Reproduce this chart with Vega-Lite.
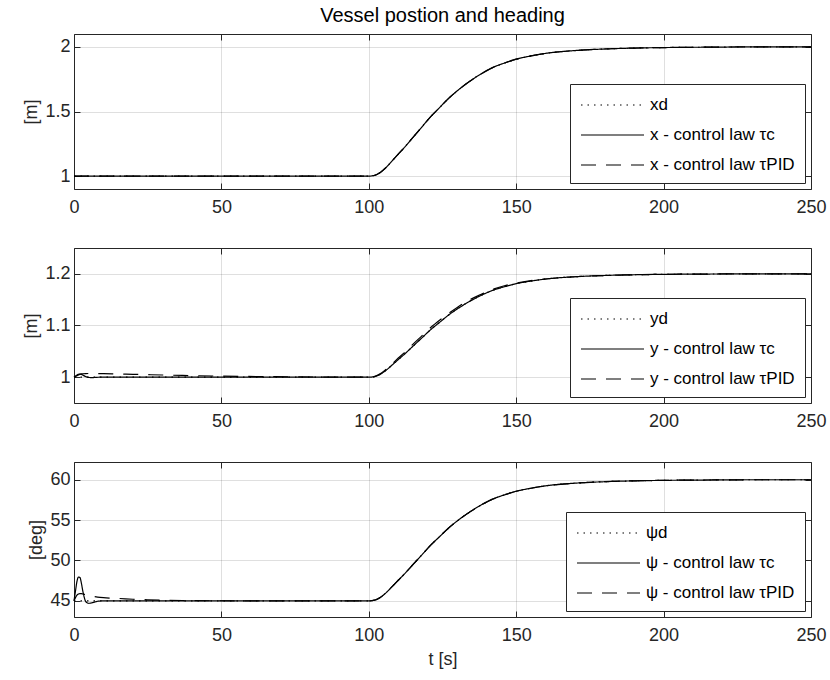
{
  "$schema": "https://vega.github.io/schema/vega-lite/v6.json",
  "padding": {"left": 22, "top": 5, "right": 5, "bottom": 5},
  "datasets": {
    "x": [
      {"t": 0, "d": 1, "c": 1, "p": 1},
      {"t": 50, "d": 1, "c": 1, "p": 1},
      {"t": 100, "d": 1, "c": 1, "p": 1},
      {"t": 102, "d": 1.006, "c": 1.006, "p": 1.006},
      {"t": 104, "d": 1.03, "c": 1.03, "p": 1.03},
      {"t": 106, "d": 1.07, "c": 1.07, "p": 1.07},
      {"t": 108, "d": 1.12, "c": 1.12, "p": 1.12},
      {"t": 110, "d": 1.17, "c": 1.17, "p": 1.17},
      {"t": 112, "d": 1.22, "c": 1.22, "p": 1.22},
      {"t": 115, "d": 1.3, "c": 1.3, "p": 1.3},
      {"t": 118, "d": 1.38, "c": 1.38, "p": 1.38},
      {"t": 121, "d": 1.46, "c": 1.46, "p": 1.46},
      {"t": 124, "d": 1.53, "c": 1.53, "p": 1.53},
      {"t": 127, "d": 1.6, "c": 1.6, "p": 1.6},
      {"t": 130, "d": 1.66, "c": 1.66, "p": 1.66},
      {"t": 134, "d": 1.73, "c": 1.73, "p": 1.73},
      {"t": 138, "d": 1.79, "c": 1.79, "p": 1.79},
      {"t": 142, "d": 1.84, "c": 1.84, "p": 1.84},
      {"t": 146, "d": 1.875, "c": 1.875, "p": 1.875},
      {"t": 150, "d": 1.905, "c": 1.905, "p": 1.905},
      {"t": 155, "d": 1.93, "c": 1.93, "p": 1.93},
      {"t": 160, "d": 1.95, "c": 1.95, "p": 1.95},
      {"t": 170, "d": 1.972, "c": 1.972, "p": 1.972},
      {"t": 180, "d": 1.984, "c": 1.984, "p": 1.984},
      {"t": 190, "d": 1.991, "c": 1.991, "p": 1.991},
      {"t": 200, "d": 1.995, "c": 1.995, "p": 1.995},
      {"t": 215, "d": 1.998, "c": 1.998, "p": 1.998},
      {"t": 230, "d": 2, "c": 2, "p": 2},
      {"t": 250, "d": 2, "c": 2, "p": 2}
    ],
    "y": [
      {"t": 0, "d": 1, "c": 1, "p": 1},
      {"t": 0.5, "d": 1, "c": 1.002, "p": 1.0015},
      {"t": 1, "d": 1, "c": 1.004, "p": 1.003},
      {"t": 1.5, "d": 1, "c": 1.0055, "p": 1.0045},
      {"t": 2, "d": 1, "c": 1.006, "p": 1.0055},
      {"t": 2.5, "d": 1, "c": 1.0055, "p": 1.0062},
      {"t": 3, "d": 1, "c": 1.004, "p": 1.0066},
      {"t": 4, "d": 1, "c": 1.001, "p": 1.007},
      {"t": 5, "d": 1, "c": 0.9995, "p": 1.0071},
      {"t": 6, "d": 1, "c": 0.9992, "p": 1.0071},
      {"t": 8, "d": 1, "c": 0.9998, "p": 1.007},
      {"t": 10, "d": 1, "c": 1, "p": 1.0068},
      {"t": 15, "d": 1, "c": 1, "p": 1.0062},
      {"t": 20, "d": 1, "c": 1, "p": 1.0055},
      {"t": 30, "d": 1, "c": 1, "p": 1.0042},
      {"t": 40, "d": 1, "c": 1, "p": 1.003},
      {"t": 50, "d": 1, "c": 1, "p": 1.002},
      {"t": 75, "d": 1, "c": 1, "p": 1.0006},
      {"t": 100, "d": 1, "c": 1, "p": 1},
      {"t": 102, "d": 1.0012, "c": 1.0012, "p": 1.0014},
      {"t": 104, "d": 1.006, "c": 1.006, "p": 1.007},
      {"t": 106, "d": 1.014, "c": 1.014, "p": 1.016},
      {"t": 108, "d": 1.024, "c": 1.024, "p": 1.026},
      {"t": 110, "d": 1.034, "c": 1.034, "p": 1.037},
      {"t": 112, "d": 1.044, "c": 1.044, "p": 1.047},
      {"t": 115, "d": 1.06, "c": 1.06, "p": 1.064},
      {"t": 118, "d": 1.076, "c": 1.076, "p": 1.08},
      {"t": 121, "d": 1.092, "c": 1.092, "p": 1.096},
      {"t": 124, "d": 1.106, "c": 1.106, "p": 1.11},
      {"t": 127, "d": 1.12, "c": 1.12, "p": 1.123},
      {"t": 130, "d": 1.132, "c": 1.132, "p": 1.135},
      {"t": 134, "d": 1.146, "c": 1.146, "p": 1.149},
      {"t": 138, "d": 1.158, "c": 1.158, "p": 1.16},
      {"t": 142, "d": 1.168, "c": 1.168, "p": 1.17},
      {"t": 146, "d": 1.175, "c": 1.175, "p": 1.177},
      {"t": 150, "d": 1.181, "c": 1.181, "p": 1.182},
      {"t": 155, "d": 1.186, "c": 1.186, "p": 1.187},
      {"t": 160, "d": 1.19, "c": 1.19, "p": 1.19},
      {"t": 170, "d": 1.1944, "c": 1.1944, "p": 1.1944},
      {"t": 180, "d": 1.1968, "c": 1.1968, "p": 1.1968},
      {"t": 190, "d": 1.1982, "c": 1.1982, "p": 1.1982},
      {"t": 200, "d": 1.199, "c": 1.199, "p": 1.199},
      {"t": 215, "d": 1.1996, "c": 1.1996, "p": 1.1996},
      {"t": 230, "d": 1.2, "c": 1.2, "p": 1.2},
      {"t": 250, "d": 1.2, "c": 1.2, "p": 1.2}
    ],
    "psi": [
      {"t": 0, "d": 45, "c": 45, "p": 45},
      {"t": 0.5, "d": 45, "c": 46.2, "p": 45.4},
      {"t": 1, "d": 45, "c": 47.4, "p": 45.7},
      {"t": 1.5, "d": 45, "c": 47.95, "p": 45.85},
      {"t": 2, "d": 45, "c": 47.9, "p": 45.9},
      {"t": 2.5, "d": 45, "c": 47.2, "p": 45.9},
      {"t": 3, "d": 45, "c": 46.2, "p": 45.85},
      {"t": 3.5, "d": 45, "c": 45.4, "p": 45.8},
      {"t": 4, "d": 45, "c": 44.9, "p": 45.75},
      {"t": 5, "d": 45, "c": 44.7, "p": 45.65},
      {"t": 6, "d": 45, "c": 44.75, "p": 45.58},
      {"t": 7, "d": 45, "c": 44.85, "p": 45.52},
      {"t": 8, "d": 45, "c": 44.95, "p": 45.47},
      {"t": 10, "d": 45, "c": 45, "p": 45.4},
      {"t": 12, "d": 45, "c": 45, "p": 45.35},
      {"t": 15, "d": 45, "c": 45, "p": 45.3},
      {"t": 20, "d": 45, "c": 45, "p": 45.2},
      {"t": 25, "d": 45, "c": 45, "p": 45.13},
      {"t": 30, "d": 45, "c": 45, "p": 45.08},
      {"t": 40, "d": 45, "c": 45, "p": 45.03},
      {"t": 50, "d": 45, "c": 45, "p": 45.01},
      {"t": 75, "d": 45, "c": 45, "p": 45},
      {"t": 100, "d": 45, "c": 45, "p": 45},
      {"t": 102, "d": 45.09, "c": 45.09, "p": 45.09},
      {"t": 104, "d": 45.45, "c": 45.45, "p": 45.45},
      {"t": 106, "d": 46.05, "c": 46.05, "p": 46.05},
      {"t": 108, "d": 46.8, "c": 46.8, "p": 46.8},
      {"t": 110, "d": 47.55, "c": 47.55, "p": 47.55},
      {"t": 112, "d": 48.3, "c": 48.3, "p": 48.3},
      {"t": 115, "d": 49.5, "c": 49.5, "p": 49.5},
      {"t": 118, "d": 50.7, "c": 50.7, "p": 50.7},
      {"t": 121, "d": 51.9, "c": 51.9, "p": 51.9},
      {"t": 124, "d": 52.95, "c": 52.95, "p": 52.95},
      {"t": 127, "d": 54.0, "c": 54.0, "p": 54.0},
      {"t": 130, "d": 54.9, "c": 54.9, "p": 54.9},
      {"t": 134, "d": 55.95, "c": 55.95, "p": 55.95},
      {"t": 138, "d": 56.85, "c": 56.85, "p": 56.85},
      {"t": 142, "d": 57.6, "c": 57.6, "p": 57.6},
      {"t": 146, "d": 58.125, "c": 58.125, "p": 58.125},
      {"t": 150, "d": 58.575, "c": 58.575, "p": 58.575},
      {"t": 155, "d": 58.95, "c": 58.95, "p": 58.95},
      {"t": 160, "d": 59.25, "c": 59.25, "p": 59.25},
      {"t": 170, "d": 59.58, "c": 59.58, "p": 59.58},
      {"t": 180, "d": 59.76, "c": 59.76, "p": 59.76},
      {"t": 190, "d": 59.865, "c": 59.865, "p": 59.865},
      {"t": 200, "d": 59.925, "c": 59.925, "p": 59.925},
      {"t": 215, "d": 59.97, "c": 59.97, "p": 59.97},
      {"t": 230, "d": 60, "c": 60, "p": 60},
      {"t": 250, "d": 60, "c": 60, "p": 60}
    ]
  },
  "vconcat": [
    {
      "width": 737, "height": 155,
      "title": {"text": "Vessel postion and heading", "frame": "group", "anchor": "middle", "offset": 8},
      "data": {"name": "x"},
      "transform": [{"fold": ["d", "c", "p"], "as": ["s", "v"]}],
      "layer": [
        {
          "mark": {"type": "line"},
          "encoding": {
            "x": {"field": "t", "type": "quantitative", "scale": {"domain": [0, 250], "nice": false}, "axis": {"values": [0, 50, 100, 150, 200, 250], "title": null}},
            "y": {"field": "v", "type": "quantitative", "scale": {"domain": [0.9, 2.1], "nice": false, "zero": false}, "axis": {"values": [1, 1.5, 2], "format": "~g", "title": "[m]"}},
            "strokeDash": {"field": "s", "type": "nominal", "scale": {"domain": ["d", "c", "p"], "range": [[1.5, 5], [1, 0], [15, 10]]},
              "legend": {"title": null, "symbolType": "M-1,0H5.3", "labelExpr": "datum.label == 'd' ? 'xd' : datum.label == 'c' ? 'x - control law τc' : 'x - control law τPID'"}}
          }
        },
        {
          "mark": {"type": "line", "opacity": 0},
          "encoding": {
            "x": {"field": "t", "type": "quantitative", "axis": {"orient": "top", "values": [0, 50, 100, 150, 200, 250], "labels": false, "grid": false, "title": null}},
            "y": {"field": "v", "type": "quantitative", "axis": {"orient": "right", "values": [1, 1.5, 2], "labels": false, "grid": false, "title": null}}
          }
        }
      ],
      "resolve": {"axis": {"x": "independent", "y": "independent"}}
    },
    {
      "width": 737, "height": 155,
      "data": {"name": "y"},
      "transform": [{"fold": ["d", "c", "p"], "as": ["s", "v"]}],
      "layer": [
        {
          "mark": {"type": "line"},
          "encoding": {
            "x": {"field": "t", "type": "quantitative", "scale": {"domain": [0, 250], "nice": false}, "axis": {"values": [0, 50, 100, 150, 200, 250], "title": null}},
            "y": {"field": "v", "type": "quantitative", "scale": {"domain": [0.95, 1.25], "nice": false, "zero": false}, "axis": {"values": [1, 1.1, 1.2], "format": "~g", "title": "[m]"}},
            "strokeDash": {"field": "s", "type": "nominal", "scale": {"domain": ["d", "c", "p"], "range": [[1.5, 5], [1, 0], [15, 10]]},
              "legend": {"title": null, "symbolType": "M-1,0H5.3", "labelExpr": "datum.label == 'd' ? 'yd' : datum.label == 'c' ? 'y - control law τc' : 'y - control law τPID'"}}
          }
        },
        {
          "mark": {"type": "line", "opacity": 0},
          "encoding": {
            "x": {"field": "t", "type": "quantitative", "axis": {"orient": "top", "values": [0, 50, 100, 150, 200, 250], "labels": false, "grid": false, "title": null}},
            "y": {"field": "v", "type": "quantitative", "axis": {"orient": "right", "values": [1, 1.1, 1.2], "labels": false, "grid": false, "title": null}}
          }
        }
      ],
      "resolve": {"axis": {"x": "independent", "y": "independent"}}
    },
    {
      "width": 737, "height": 155,
      "data": {"name": "psi"},
      "transform": [{"fold": ["d", "c", "p"], "as": ["s", "v"]}],
      "layer": [
        {
          "mark": {"type": "line"},
          "encoding": {
            "x": {"field": "t", "type": "quantitative", "scale": {"domain": [0, 250], "nice": false}, "axis": {"values": [0, 50, 100, 150, 200, 250], "title": "t [s]"}},
            "y": {"field": "v", "type": "quantitative", "scale": {"domain": [43, 62.2], "nice": false, "zero": false}, "axis": {"values": [45, 50, 55, 60], "format": "~g", "title": "[deg]"}},
            "strokeDash": {"field": "s", "type": "nominal", "scale": {"domain": ["d", "c", "p"], "range": [[1.5, 5], [1, 0], [15, 10]]},
              "legend": {"title": null, "symbolType": "M-1,0H5.3", "labelExpr": "datum.label == 'd' ? 'ψd' : datum.label == 'c' ? 'ψ - control law τc' : 'ψ - control law τPID'"}}
          }
        },
        {
          "mark": {"type": "line", "opacity": 0},
          "encoding": {
            "x": {"field": "t", "type": "quantitative", "axis": {"orient": "top", "values": [0, 50, 100, 150, 200, 250], "labels": false, "grid": false, "title": null}},
            "y": {"field": "v", "type": "quantitative", "axis": {"orient": "right", "values": [45, 50, 55, 60], "labels": false, "grid": false, "title": null}}
          }
        }
      ],
      "resolve": {"axis": {"x": "independent", "y": "independent"}}
    }
  ],
  "bounds": "flush",
  "spacing": 59,
  "resolve": {"scale": {"strokeDash": "independent", "x": "independent", "y": "independent"}, "legend": {"strokeDash": "independent"}},
  "config": {
    "font": "Liberation Sans",
    "view": {"stroke": "#262626", "strokeWidth": 1},
    "axis": {"domain": false, "grid": true, "gridColor": "#262626", "gridOpacity": 0.15, "tickColor": "#262626", "tickSize": -6, "labelFlush": false, "labelColor": "#262626", "labelFontSize": 18, "titleFontSize": 18, "titleFontWeight": "normal", "titleColor": "#262626", "titlePadding": 4},
    "axisX": {"labelPadding": 15, "titlePadding": 6},
    "axisY": {"labelPadding": 10},
    "title": {"fontSize": 20, "fontWeight": "normal", "color": "#000000"},
    "legend": {"orient": "bottom-right", "offset": 6, "fillColor": "white", "strokeColor": "#262626", "padding": 10, "labelFontSize": 17, "labelColor": "#000000", "symbolSize": 400, "symbolStrokeWidth": 1.2, "symbolStrokeColor": "black", "symbolFillColor": "transparent", "labelOffset": 48, "labelLimit": 300, "rowPadding": 11},
    "line": {"color": "black", "strokeWidth": 1.2, "interpolate": "monotone"}
  }
}
